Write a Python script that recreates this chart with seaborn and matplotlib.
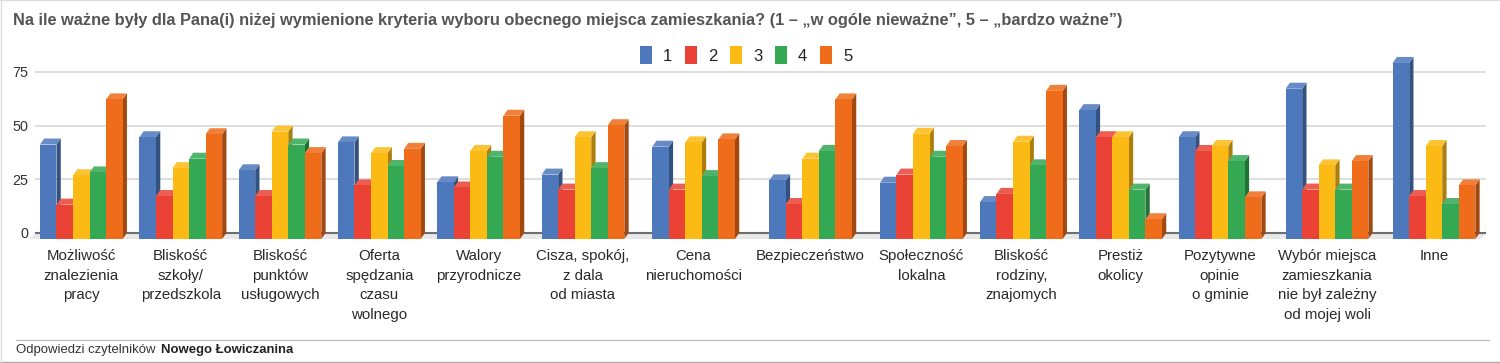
import matplotlib
matplotlib.use("Agg")
import matplotlib.pyplot as plt
import matplotlib.colors as mc
import numpy as np
import pandas as pd
import seaborn as sns

title = "Na ile ważne były dla Pana(i) niżej wymienione kryteria wyboru obecnego miejsca zamieszkania? (1 – „w ogóle nieważne”, 5 – „bardzo ważne”)"
categories = ["Możliwość\nznalezienia\npracy", "Bliskość\nszkoły/\nprzedszkola", "Bliskość\npunktów\nusługowych",
              "Oferta\nspędzania\nczasu\nwolnego", "Walory\nprzyrodnicze", "Cisza, spokój,\nz dala\nod miasta",
              "Cena\nnieruchomości", "Bezpieczeństwo", "Społeczność\nlokalna", "Bliskość\nrodziny,\nznajomych",
              "Prestiż\nokolicy", "Pozytywne\nopinie\no gminie", "Wybór miejsca\nzamieszkania\nnie był zależny\nod mojej woli", "Inne"]
series_1 = [44, 47.4, 32, 45, 26.4, 30, 43, 27.3, 26.2, 17.2, 60, 47.4, 70, 82]
series_2 = [16, 20, 20, 25, 24, 23, 23, 16.3, 30, 21, 47.4, 41, 23, 20]
series_3 = [29.7, 33, 50, 40, 41, 47.4, 45, 37.4, 49, 45.3, 47.4, 43.3, 34.3, 43.3]
series_4 = [31, 37.4, 44, 34, 38.3, 33, 29.3, 41, 38.3, 34.3, 23, 36.3, 23, 16.3]
series_5 = [65, 48.8, 40, 42, 57.4, 53, 46.4, 65, 43.3, 69, 9.2, 19.4, 36.3, 25]
series_names = ["1", "2", "3", "4", "5"]
colors = ["#4D78BC", "#EA4335", "#FCBA14", "#34A853", "#EE6C1A"]
y_ticks = [0, 25, 50, 75]
# horizontal layout: the source spaces its groups unevenly (pixel-based x scale)
group_centers = [81.3, 180.8, 280, 379.3, 478.6, 583, 693.6, 810.6, 921.3, 1021.3, 1120.6, 1220, 1327, 1434]

W, H = 1500, 363
PX_PER_UNIT = 2.147
AX_L, AX_R, AX_T, AX_B = 35, 1486, 50, 239
DEPTH_X = 4.3
DEPTH_Y = (239 - 233) / PX_PER_UNIT

sns.set_theme(style="whitegrid")
plt.rcParams["font.family"] = ["Liberation Sans", "DejaVu Sans"]

df = pd.DataFrame({
    "pos": np.tile(group_centers, 5),
    "value": series_1 + series_2 + series_3 + series_4 + series_5,
    "answer": np.repeat(series_names, len(categories)),
})

fig = plt.figure(figsize=(W / 100, H / 100), dpi=100, facecolor="white")
ax = fig.add_axes([AX_L / W, 1 - AX_B / H, (AX_R - AX_L) / W, (AX_B - AX_T) / H])

sns.barplot(data=df, x="pos", y="value", hue="answer", hue_order=series_names, palette=colors,
            native_scale=True, width=82.7 / np.diff(group_centers).min(), gap=0, saturation=1,
            linewidth=0, errorbar=None, ax=ax)

ax.set_xlim(AX_L, AX_R)
ax.set_ylim(-DEPTH_Y, (233 - AX_T) / PX_PER_UNIT)

# 3D faces derived from the bars themselves
for i, container in enumerate(ax.containers):
    base = np.array(mc.to_rgb(colors[i]))
    side = base * 0.68
    top = base + (1 - base) * 0.14
    for p in container.patches:
        p.set_y(p.get_y() - DEPTH_Y)
        p.set_zorder(3 + i)
        x0, y0, w, h = p.get_x(), p.get_y(), p.get_width(), p.get_height()
        x1, y1 = x0 + w, y0 + h
        ax.fill([x1, x1 + DEPTH_X, x1 + DEPTH_X, x1], [y0, y0 + DEPTH_Y, y1 + DEPTH_Y, y1],
                color=side, lw=0, zorder=3 + i - 0.1, clip_on=False)
        ax.fill([x0, x0 + DEPTH_X, x1 + DEPTH_X, x1], [y1, y1 + DEPTH_Y, y1 + DEPTH_Y, y1],
                color=top, lw=0, zorder=3 + i - 0.1, clip_on=False)

# floor and zero line
ax.fill([30, AX_L, AX_R, AX_R - 5], [-DEPTH_Y, 0, 0, -DEPTH_Y], color="#E8E8E8", lw=0, zorder=1, clip_on=False)
ax.axhline(0, color="#6E6E6E", lw=1.5, zorder=2)

ax.grid(axis="x", visible=False)
ax.grid(axis="y", color="#D4D4D4", lw=1.1)
ax.set_axisbelow(True)
for s in ax.spines.values():
    s.set_visible(False)
ax.set_yticks(y_ticks)
ax.set_xticks(group_centers)
ax.set_xticklabels(categories, fontsize=10.85, color="#2A2A2A", linespacing=1.53, va="top", ha="center")
ax.tick_params(axis="x", length=0, pad=7)
ax.tick_params(axis="y", length=0, pad=5, labelsize=10.4, labelcolor="#333333")
ax.set_xlabel("")
ax.set_ylabel("")

handles, labels = ax.get_legend_handles_labels()
ax.get_legend().remove()
fig.legend(handles, labels, loc="center", bbox_to_anchor=(746 / W, 1 - 55 / H), ncol=5, frameon=False,
           fontsize=12, handlelength=0.72, handleheight=1.25, handletextpad=0.65, columnspacing=0.78,
           labelcolor="#222222", borderpad=0, borderaxespad=0)

fig.text(13 / W, 1 - 21 / H, title, fontsize=11.8, fontweight="bold", color="#555555", va="center", ha="left")
foot = fig.text(16 / W, 1 - 349.5 / H, "Odpowiedzi czytelników ", fontsize=9.45, color="#333333", va="center", ha="left")
fig.canvas.draw()
bb = foot.get_window_extent()
fig.text((bb.x1 + 2) / W, 1 - 349.5 / H, "Nowego Łowiczanina", fontsize=9.45, fontweight="bold", color="#222222", va="center", ha="left")

def hline(py, x0, x1, color, lw):
    fig.add_artist(plt.Line2D([x0 / W, x1 / W], [1 - py / H] * 2, color=color, lw=lw))

hline(339.5, 16, 1489, "#BDBDBD", 0.9)
hline(362.3, 0, 1500, "#AAAAAA", 1.0)
hline(0.4, 0, 1500, "#DDDDDD", 1.0)
fig.add_artist(plt.Line2D([1.2 / W] * 2, [0, 1], color="#DDDDDD", lw=1.0))

fig.savefig("out.png", dpi=100)
